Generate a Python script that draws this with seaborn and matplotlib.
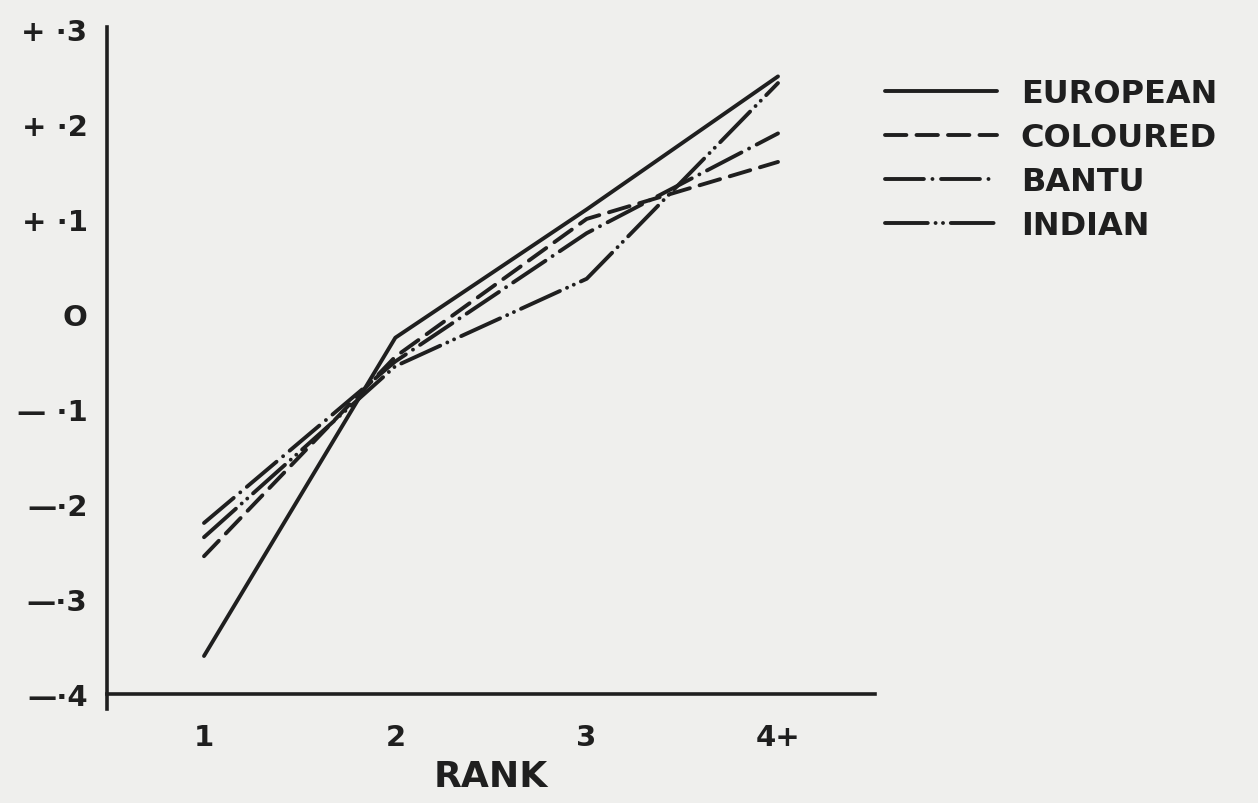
import matplotlib
matplotlib.use("Agg")
import matplotlib.pyplot as plt
import seaborn as sns
import pandas as pd

# Mean deviation score by birth rank for each population group
rank_labels = ["1", "2", "3", "4+"]
rank_pos = [1, 2, 3, 4]
european = [-0.36, -0.025, 0.11, 0.25]
coloured = [-0.255, -0.045, 0.10, 0.16]
bantu = [-0.22, -0.05, 0.085, 0.19]
indian = [-0.235, -0.055, 0.037, 0.243]

groups = ["EUROPEAN", "COLOURED", "BANTU", "INDIAN"]
y_ticks = [-0.4, -0.3, -0.2, -0.1, 0.0, 0.1, 0.2, 0.3]
y_tick_labels = ["—·4", "—·3", "—·2", "— ·1", "O", "+ ·1", "+ ·2", "+ ·3"]

df = pd.DataFrame({
    "rank": rank_pos * 4,
    "score": european + coloured + bantu + indian,
    "group": sum([[g] * 4 for g in groups], []),
})

ink = "#1f1f1f"
paper = "#efefed"

sns.set_style("white")
plt.rcParams["font.family"] = ["DejaVu Sans"]
plt.rcParams["font.weight"] = "bold"

fig = plt.figure(figsize=(12.58, 8.04), dpi=100, facecolor=paper)
ax = fig.add_axes([107 / 1258, 1 - 695 / 804, (875 - 107) / 1258, (695 - 28) / 804])
ax.set_facecolor(paper)

# dash patterns in line-width units
dash_styles = {
    "EUROPEAN": "",
    "COLOURED": (5.5, 2.6),
    "BANTU": (10.0, 2.2, 0.01, 2.2),
    "INDIAN": (11.0, 2.0, 0.01, 1.9, 0.01, 2.0),
}

sns.lineplot(data=df, x="rank", y="score", style="group", style_order=groups,
             dashes=dash_styles, color=ink, linewidth=2.8, legend=False, ax=ax)

for ln in ax.get_lines():
    ln.set_dash_capstyle("round")
    ln.set_solid_capstyle("round")

ax.set_xlim(0.493, 4.507)
ax.set_ylim(-0.4, 0.302)

ax.set_xticks(rank_pos)
ax.set_xticklabels(rank_labels)
ax.set_yticks(y_ticks)
ax.set_yticklabels(y_tick_labels)

for side in ["top", "right"]:
    ax.spines[side].set_visible(False)
for side in ["left", "bottom"]:
    ax.spines[side].set_linewidth(2.6)
    ax.spines[side].set_color(ink)
ax.spines["left"].set_bounds(-0.416, 0.302)

ax.tick_params(axis="x", direction="out", length=13, width=2.4, color=ink,
               labelsize=21, labelcolor=ink, pad=8)
ax.tick_params(axis="y", direction="out", length=8, width=2.4, color=ink,
               labelsize=21, labelcolor=ink, pad=6)
for lab in ax.get_xticklabels() + ax.get_yticklabels():
    lab.set_fontweight("bold")

ax.set_xlabel("RANK", fontsize=26, fontweight="bold", color=ink, labelpad=6)
ax.set_ylabel("")

handles = ax.get_lines()
leg = ax.legend(handles, groups, loc="upper left",
                bbox_to_anchor=(885 / 1258, 1 - 79 / 804), bbox_transform=fig.transFigure,
                frameon=False, fontsize=23, handlelength=3.5, handletextpad=0.75,
                labelspacing=0.41, borderpad=0, borderaxespad=0)
for t in leg.get_texts():
    t.set_color(ink)
    t.set_fontweight("bold")

fig.savefig("out.png", dpi=100, facecolor=paper)
